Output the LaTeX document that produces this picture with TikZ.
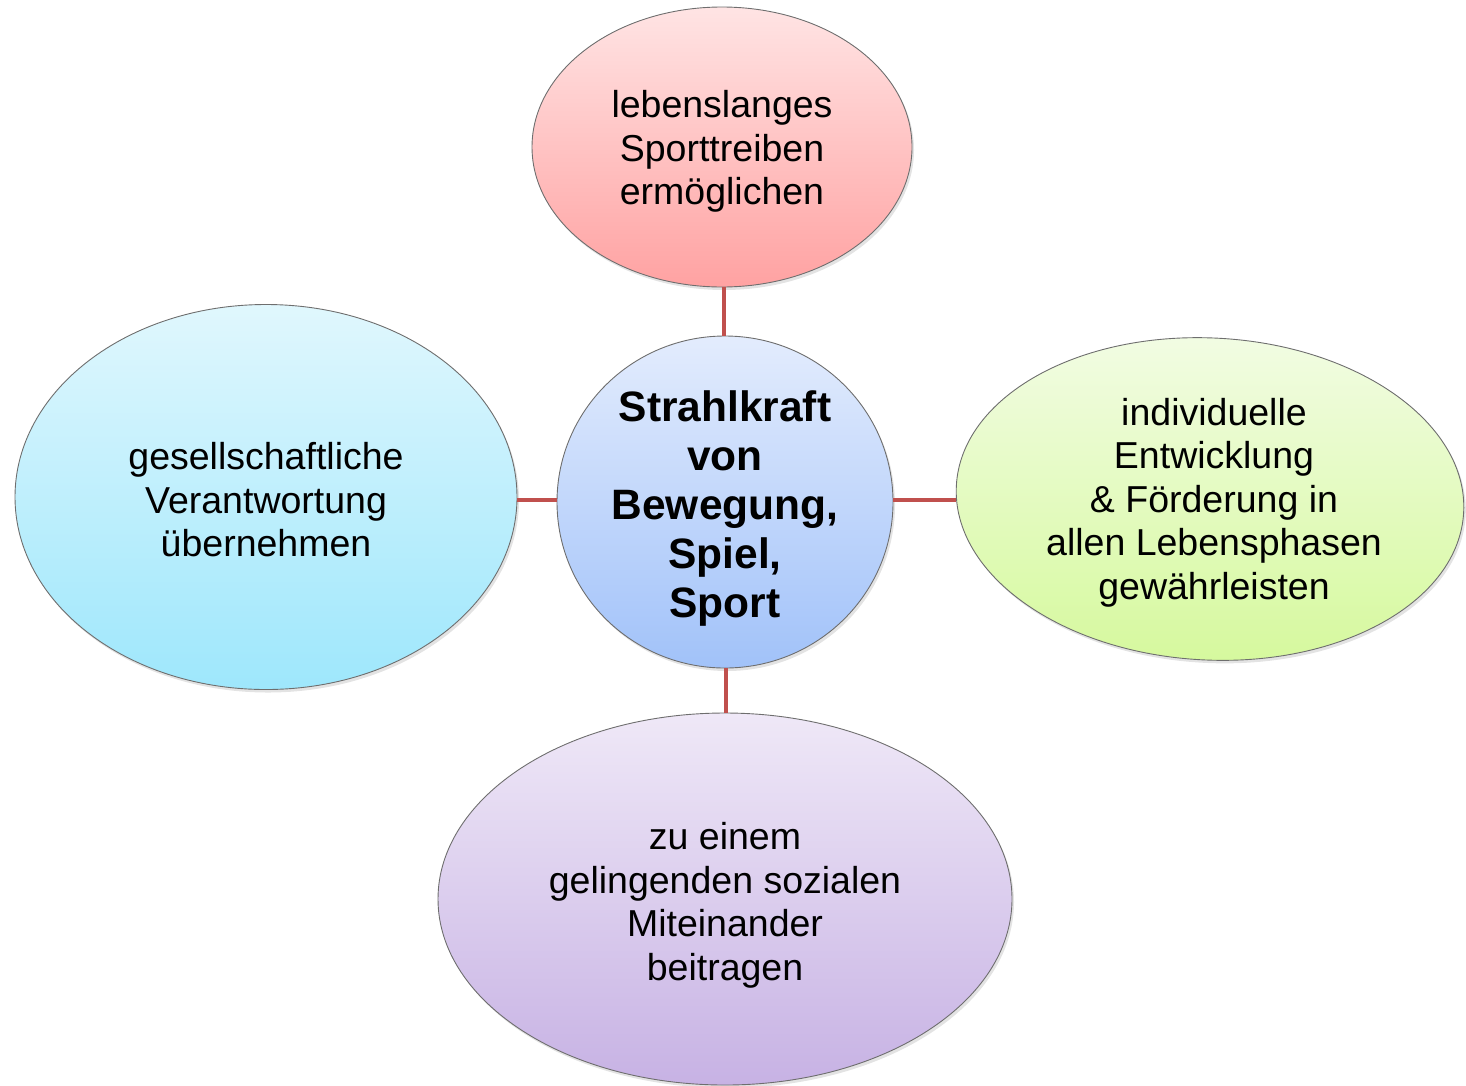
\documentclass[tikz,border=0pt]{standalone}
\usepackage{fontspec}
\setmainfont{Liberation Sans}
\usetikzlibrary{shapes.geometric,shadows}
\definecolor{linkred}{HTML}{C0504D}
\definecolor{rimgray}{HTML}{6E6E6E}
\begin{document}
\begin{tikzpicture}[x=1pt,y=-1pt,
  bubble/.style={ellipse, draw=rimgray, line width=0.9pt, inner sep=0pt,
    drop shadow={opacity=0.22, shadow xshift=2pt, shadow yshift=-3pt}},
  caption/.style={align=center, inner sep=0pt, font=\fontsize{37.5}{43.5}\selectfont},
  hubcaption/.style={caption, font=\fontsize{42.5}{49}\selectfont\bfseries},
  link/.style={draw=linkred, line width=4pt}]
\useasboundingbox (0,0) rectangle (1466,1085);

% spoke positions on the hub
\coordinate (hubN) at (724,337);
\coordinate (hubS) at (726,668);
\coordinate (hubW) at (557,500);
\coordinate (hubE) at (893,500);

% central circle
\node[bubble, minimum width=336pt, minimum height=332pt,
  top color={rgb,255:red,227;green,236;blue,253},
  bottom color={rgb,255:red,161;green,194;blue,249}]
  (hub) at (725,502) {};
\node[hubcaption] (hubtext) at (725,508.5)
  {Strahlkraft\\von\\Bewegung,\\Spiel,\\Sport};

% surrounding goals
\node[bubble, minimum width=380pt, minimum height=280pt,
  top color={rgb,255:red,255;green,228;blue,228},
  bottom color={rgb,255:red,255;green,162;blue,162}]
  (top) at (722,147) {};
\node[caption] (toptext) at (722,151.5) {lebenslanges\\Sporttreiben\\ermöglichen};

\node[bubble, minimum width=502pt, minimum height=385pt,
  top color={rgb,255:red,224;green,247;blue,253},
  bottom color={rgb,255:red,158;green,231;blue,252}]
  (left) at (266,497) {};
\node[caption] (lefttext) at (266,500) {gesellschaftliche\\Verantwortung\\übernehmen};

\node[bubble, rotate=-3, minimum width=508pt, minimum height=322pt,
  top color={rgb,255:red,242;green,252;blue,228},
  bottom color={rgb,255:red,214;green,249;blue,158}]
  (right) at (1210,499) {};
\node[caption] (righttext) at (1214,502.5)
  {individuelle\\Entwicklung\\\& Förderung in\\allen Lebensphasen\\gewährleisten};

\node[bubble, minimum width=574pt, minimum height=372pt,
  top color={rgb,255:red,239;green,232;blue,247},
  bottom color={rgb,255:red,199;green,178;blue,228}]
  (bottom) at (725,899) {};
\node[caption] (bottomtext) at (725,905.5)
  {zu einem\\gelingenden sozialen\\Miteinander\\beitragen};

% straight spokes from the hub to each goal
\draw[link] (hub.north -| hubN) -- (top.south -| hubN);
\draw[link] (hub.south -| hubS) -- (bottom.north -| hubS);
\draw[link] (hub.west |- hubW) -- (left.east |- hubW);
\draw[link] (hub.east |- hubE) -- (right.west |- hubE);
\end{tikzpicture}
\end{document}
